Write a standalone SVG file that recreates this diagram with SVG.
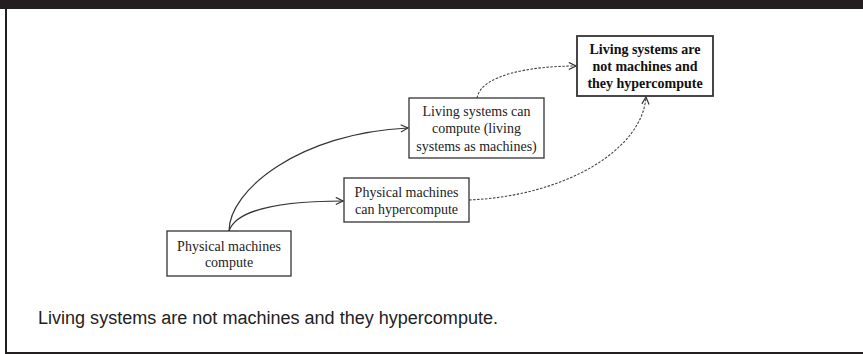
<svg xmlns="http://www.w3.org/2000/svg" width="863" height="354" viewBox="0 0 863 354">
<style>
.box{fill:#fff;stroke:#333;stroke-width:1.3}
.bbox{fill:#fff;stroke:#333;stroke-width:1.8}
.t{font-family:"Liberation Serif","Times New Roman",serif;font-size:14px;fill:#222;text-anchor:middle}
.tb{font-family:"Liberation Serif","Times New Roman",serif;font-size:14px;font-weight:bold;fill:#111;text-anchor:middle}
.c{fill:none;stroke:#333;stroke-width:1.2}
.d{fill:none;stroke:#444;stroke-width:1.1;stroke-dasharray:2.5 1.5}
.cap{font-family:"Liberation Sans",Arial,sans-serif;font-size:18px;fill:#222}
</style>
<defs>
<marker id="arr" viewBox="0 0 10 10" refX="9" refY="5" markerWidth="9" markerHeight="9" markerUnits="userSpaceOnUse" orient="auto">
<path d="M1,1 L9,5 L1,9" fill="none" stroke="#333" stroke-width="1.3"/>
</marker>
</defs>
<rect x="0" y="0" width="863" height="354" fill="#fff"/>
<g id="frame">
<rect x="0" y="0" width="863" height="9" fill="#231f20"/>
<rect x="5" y="9" width="2" height="345" fill="#231f20"/>
<rect x="5" y="352" width="858" height="2" fill="#231f20"/>
</g>
<g id="connectors">
<path class="c" d="M229,231 C229,190 300,133 408,128" marker-end="url(#arr)"/>
<path class="c" d="M229,231 C236,210 280,201 343,201" marker-end="url(#arr)"/>
<path class="d" d="M477,98 C481,75 530,66 576,66" marker-end="url(#arr)"/>
<path class="d" d="M469,200 C565,196 642,150 646,97" marker-end="url(#arr)"/>
</g>
<g id="n1">
<rect class="box" x="167" y="231" width="124" height="45"/>
<text class="t" x="229" y="251">Physical machines</text>
<text class="t" x="229" y="267">compute</text>
</g>
<g id="n2">
<rect class="box" x="344" y="178" width="125" height="44"/>
<text class="t" x="406.5" y="197">Physical machines</text>
<text class="t" x="406.5" y="213.5">can hypercompute</text>
</g>
<g id="n3">
<rect class="box" x="409" y="98" width="135" height="60"/>
<text class="t" x="476.5" y="115.5">Living systems can</text>
<text class="t" x="476.5" y="133">compute (living</text>
<text class="t" x="476.5" y="150.5">systems as machines)</text>
</g>
<g id="n4">
<rect class="bbox" x="577" y="36" width="136" height="60"/>
<text class="tb" x="645" y="53.5">Living systems are</text>
<text class="tb" x="645" y="70.5">not machines and</text>
<text class="tb" x="645" y="87.5">they hypercompute</text>
</g>
<text class="cap" x="38" y="324" textLength="460" lengthAdjust="spacingAndGlyphs">Living systems are not machines and they hypercompute.</text>
</svg>
